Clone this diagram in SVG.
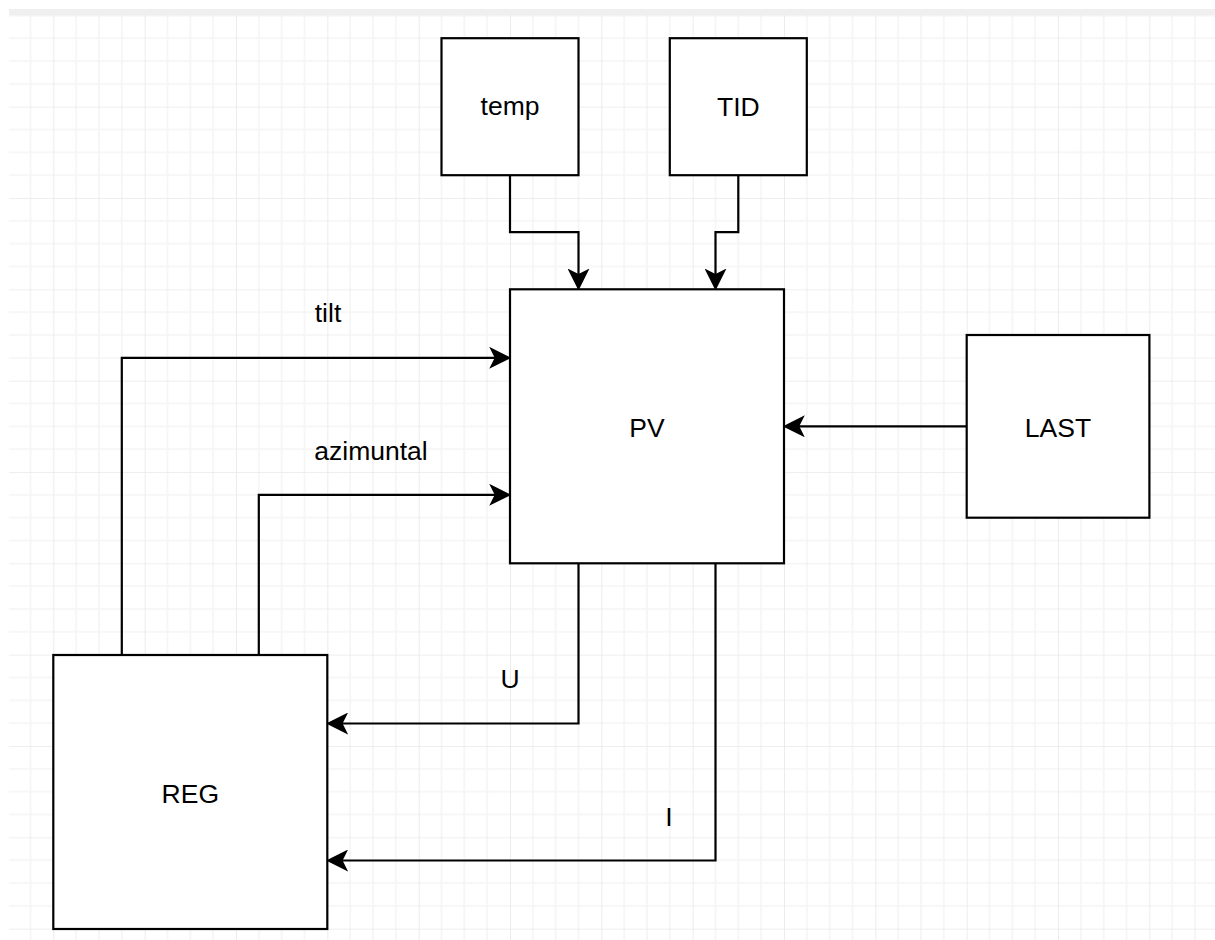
<svg xmlns="http://www.w3.org/2000/svg" width="1215" height="940" viewBox="0 0 1215 940">
  <style>
    .box { fill: #ffffff; stroke: #000000; stroke-width: 2.2; }
    .lbl { font-family: "Liberation Sans", Arial, sans-serif; font-size: 26.5px; fill: #000000; text-anchor: middle; }
    .edge { fill: none; stroke: #000000; stroke-width: 2.2; marker-end: url(#arrow); }
    .minor { stroke: #f4f4f4; stroke-width: 1.6; }
    .major { stroke: #e8e8e8; stroke-width: 1.6; }
  </style>
  <defs>
    <pattern id="grid" patternUnits="userSpaceOnUse" x="53.333" y="15.333" width="91.333" height="91.333">
      <line class="minor" x1="22.833" y1="0" x2="22.833" y2="91.333"/>
      <line class="minor" x1="45.667" y1="0" x2="45.667" y2="91.333"/>
      <line class="minor" x1="68.5" y1="0" x2="68.5" y2="91.333"/>
      <line class="minor" x1="0" y1="22.833" x2="91.333" y2="22.833"/>
      <line class="minor" x1="0" y1="45.667" x2="91.333" y2="45.667"/>
      <line class="minor" x1="0" y1="68.5" x2="91.333" y2="68.5"/>
      <line class="major" x1="0" y1="0" x2="0" y2="91.333"/>
      <line class="major" x1="0" y1="0" x2="91.333" y2="0"/>
    </pattern>
    <marker id="arrow" markerUnits="userSpaceOnUse" markerWidth="22" markerHeight="22" viewBox="0 0 20 20" refX="8" refY="10" orient="auto">
      <path d="M20,10 L0,0 L5,10 L0,20 Z" fill="#000000"/>
    </marker>
  </defs>

  <rect x="0" y="0" width="1215" height="940" fill="#ffffff"/>
  <rect x="9" y="15" width="1206" height="925" fill="url(#grid)"/>
  <rect x="9" y="9" width="1206" height="6" fill="#efefef"/>

  <g id="connectors">
    <path class="edge" d="M510,175.2 V232.2 H578.5 V277.3"/>
    <path class="edge" d="M738.3,175.2 V232.2 H715.5 V277.3"/>
    <path class="edge" d="M121.8,655 V357.8 H498"/>
    <path class="edge" d="M258.8,655 V494.8 H498"/>
    <path class="edge" d="M578.5,563.3 V723.5 H339.3"/>
    <path class="edge" d="M715.5,563.3 V860.5 H339.3"/>
    <path class="edge" d="M966.7,426.3 H796"/>
    <text class="lbl" x="328" y="322">tilt</text>
    <text class="lbl" x="371" y="460">azimuntal</text>
    <text class="lbl" x="510" y="688">U</text>
    <text class="lbl" x="669" y="826">I</text>
  </g>

  <g id="temp">
    <rect class="box" x="441.5" y="38.2" width="137" height="137"/>
    <text class="lbl" x="510" y="115">temp</text>
  </g>
  <g id="TID">
    <rect class="box" x="669.8" y="38.2" width="137" height="137"/>
    <text class="lbl" x="738.3" y="116">TID</text>
  </g>
  <g id="PV">
    <rect class="box" x="510" y="289.3" width="274" height="274"/>
    <text class="lbl" x="647" y="437">PV</text>
  </g>
  <g id="LAST">
    <rect class="box" x="966.7" y="335" width="182.7" height="182.7"/>
    <text class="lbl" x="1058" y="437">LAST</text>
  </g>
  <g id="REG">
    <rect class="box" x="53.3" y="655" width="274" height="274"/>
    <text class="lbl" x="190.3" y="803">REG</text>
  </g>
</svg>
